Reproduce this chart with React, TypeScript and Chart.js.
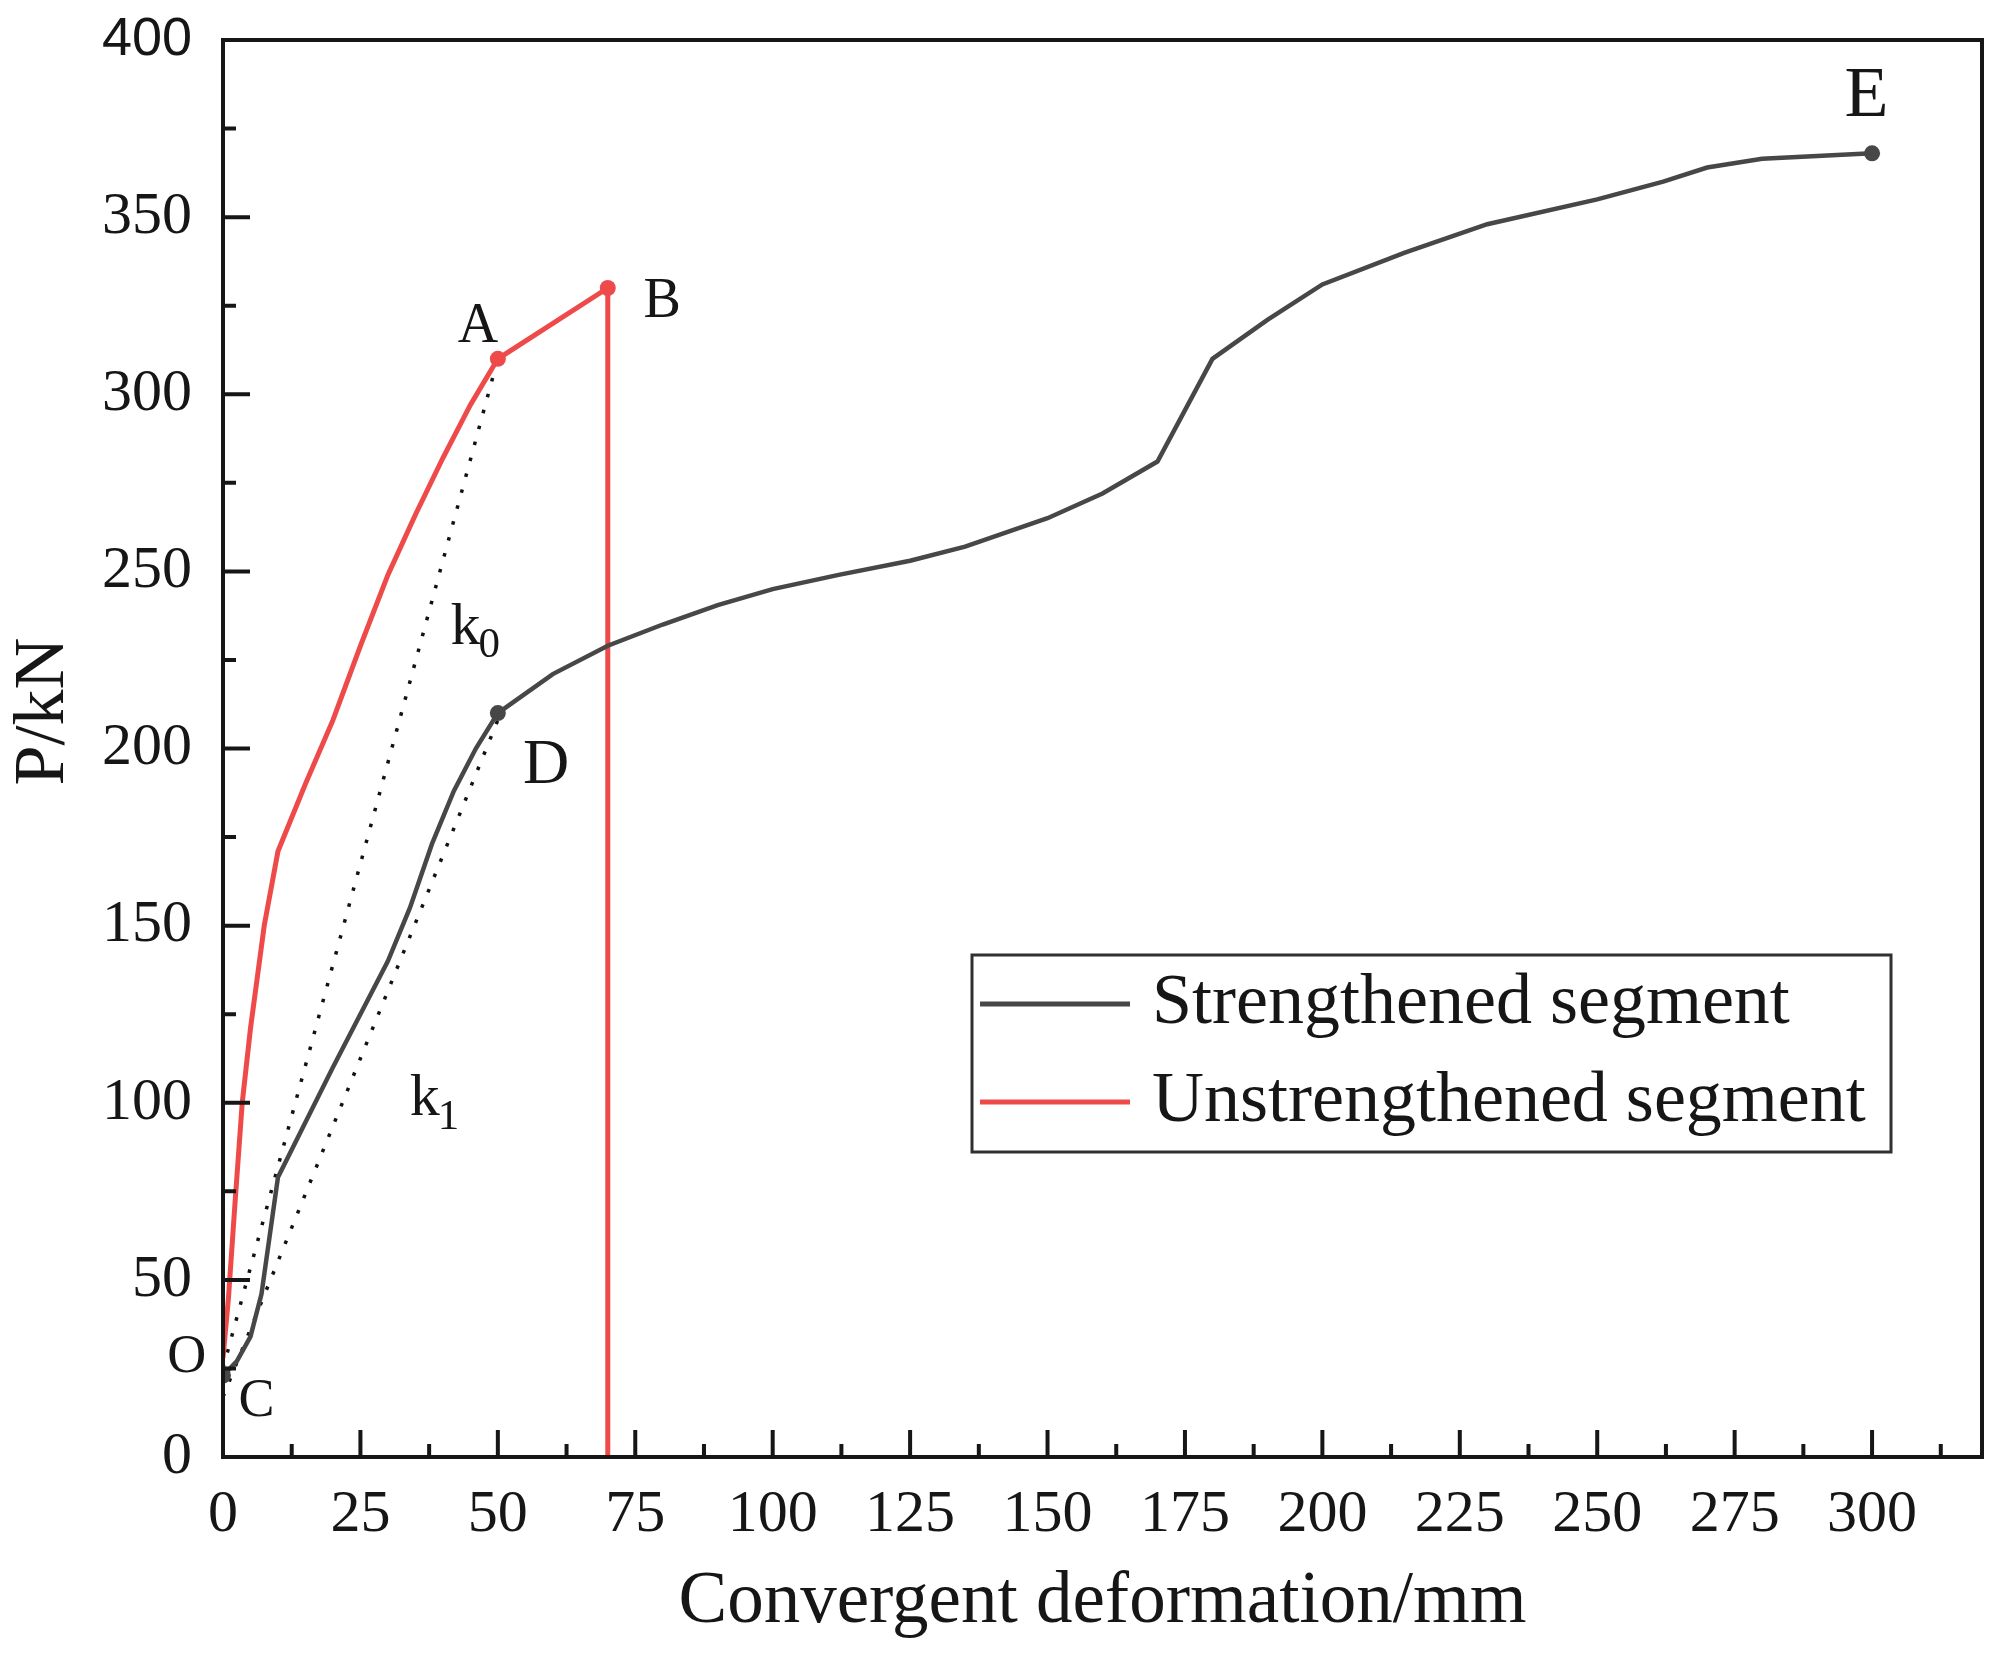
import { useEffect, useRef } from 'react';
import { Chart, registerables } from 'chart.js';

Chart.register(...registerables);

// ---------- data ----------
const strengthenedX = [0, 2.5, 5, 7, 10, 20, 30, 34, 38, 42, 46, 50, 60, 70, 80, 90, 100, 112, 125, 135, 150, 160, 170, 180, 190, 200, 215, 230, 250, 262, 270, 280, 300];
const strengthenedY = [23, 27, 34, 46, 79, 110, 140, 155, 173, 188, 200, 210, 221, 229, 235, 240.5, 245, 249, 253, 257, 265, 272, 281, 310, 321, 331, 340, 348, 355, 360, 364, 366.5, 368];
const strengthenedMarks = [0, 50, 300]; // C, D, E

const unstrengthenedX = [0, 1, 2.2, 3.5, 5, 7.5, 10, 15, 20, 25, 30, 35, 40, 45, 50, 70, 70];
const unstrengthenedY = [28, 45, 72, 100, 121, 150, 171, 190, 208, 229, 249, 266, 282, 297, 310, 330, 0];
const unstrengthenedMarks = [50, 70]; // A, B (upper point only)

const k0X = [0, 50];
const k0Y = [25, 310];
const k1X = [0, 50];
const k1Y = [17, 208];

const xTickValues = [0, 25, 50, 75, 100, 125, 150, 175, 200, 225, 250, 275, 300];
const yTickValues = [0, 50, 100, 150, 200, 250, 300, 350, 400];

const seriesLabels = ['Strengthened segment', 'Unstrengthened segment'];
const xTitle = 'Convergent deformation/mm';
const yTitle = 'P/kN';

// point labels: text, subscript, x, y (data units), font size
const pointLabels: { t: string; sub?: string; x: number; y: number; s: number }[] = [
  { t: 'A', x: 46.4, y: 319, s: 56 },
  { t: 'B', x: 79.9, y: 326, s: 56 },
  { t: 'D', x: 58.8, y: 195, s: 64 },
  { t: 'E', x: 299, y: 384, s: 72 },
  { t: 'O', x: -6.6, y: 28, s: 54 },
  { t: 'C', x: 6.1, y: 15.7, s: 54 },
  { t: 'k', sub: '0', x: 44.1, y: 234, s: 60 },
  { t: 'k', sub: '1', x: 36.7, y: 101, s: 60 },
];

const SERIF = '"Liberation Serif", "Times New Roman", serif';
const SANS = '"Liberation Sans", Arial, sans-serif';
const RED = '#ee4a4a';
const DARK = '#474747';
const INK = '#161616';

const toPts = (xs: number[], ys: number[]) => xs.map((x, i) => ({ x, y: ys[i] }));

const overlayPlugin = {
  id: 'overlay',
  afterDatasetsDraw(chart: any) {
    const { ctx, chartArea: ca, scales } = chart;
    const xs = scales.x;
    const ys = scales.y;
    ctx.save();
    // frame
    ctx.strokeStyle = INK;
    ctx.lineWidth = 4;
    ctx.lineCap = 'square';
    ctx.strokeRect(ca.left, ca.top, ca.right - ca.left, ca.bottom - ca.top);
    // inward ticks
    ctx.lineCap = 'butt';
    ctx.lineWidth = 4;
    ctx.beginPath();
    const xStep = xTickValues[1] - xTickValues[0];
    xTickValues.forEach((v) => {
      const px = xs.getPixelForValue(v);
      ctx.moveTo(px, ca.bottom);
      ctx.lineTo(px, ca.bottom - 27);
      const mv = v + xStep / 2;
      if (mv < xs.max) {
        const mp = xs.getPixelForValue(mv);
        ctx.moveTo(mp, ca.bottom);
        ctx.lineTo(mp, ca.bottom - 13);
      }
    });
    const yStep = yTickValues[1] - yTickValues[0];
    yTickValues.forEach((v) => {
      const py = ys.getPixelForValue(v);
      ctx.moveTo(ca.left, py);
      ctx.lineTo(ca.left + 27, py);
      const mv = v + yStep / 2;
      if (mv < ys.max) {
        const mp = ys.getPixelForValue(mv);
        ctx.moveTo(ca.left, mp);
        ctx.lineTo(ca.left + 13, mp);
      }
    });
    ctx.stroke();

    // point labels
    ctx.fillStyle = INK;
    ctx.textBaseline = 'middle';
    pointLabels.forEach((l) => {
      const px = xs.getPixelForValue(l.x);
      const py = ys.getPixelForValue(l.y);
      ctx.font = `${l.s}px ${SERIF}`;
      ctx.textAlign = 'center';
      ctx.fillText(l.t, px, py);
      if (l.sub) {
        const w = ctx.measureText(l.t).width;
        ctx.font = `${Math.round(l.s * 0.72)}px ${SERIF}`;
        ctx.textAlign = 'left';
        ctx.fillText(l.sub, px + w / 2 - 2, py + l.s * 0.3);
      }
    });

    // y-axis title
    ctx.save();
    ctx.translate(44, (ca.top + ca.bottom) / 2 - 37);
    ctx.rotate(-Math.PI / 2);
    ctx.font = `72px ${SERIF}`;
    ctx.textAlign = 'center';
    ctx.textBaseline = 'middle';
    ctx.fillText(yTitle, 0, 0);
    ctx.restore();

    // legend
    const bx = ca.left + 749;
    const by = ca.top + 915;
    const bw = 919;
    const bh = 197;
    ctx.fillStyle = '#ffffff';
    ctx.fillRect(bx, by, bw, bh);
    ctx.strokeStyle = '#303030';
    ctx.lineWidth = 3;
    ctx.strokeRect(bx, by, bw, bh);
    const ds = chart.data.datasets;
    [0, 1].forEach((i) => {
      const cy = by + 49 + i * 98;
      ctx.strokeStyle = ds[i].borderColor;
      ctx.lineWidth = 5;
      ctx.beginPath();
      ctx.moveTo(bx + 8, cy);
      ctx.lineTo(bx + 158, cy);
      ctx.stroke();
      ctx.fillStyle = INK;
      ctx.font = `72px ${SERIF}`;
      ctx.textAlign = 'left';
      ctx.textBaseline = 'middle';
      ctx.fillText(ds[i].label, bx + 180, cy);
    });
    ctx.restore();
  },
};

export default function App() {
  const canvasRef = useRef<HTMLCanvasElement | null>(null);

  useEffect(() => {
    const canvas = canvasRef.current;
    if (!canvas) return;
    const chart = new Chart(canvas, {
      type: 'line',
      data: {
        datasets: [
          {
            label: seriesLabels[0],
            data: toPts(strengthenedX, strengthenedY),
            borderColor: DARK,
            backgroundColor: DARK,
            borderWidth: 4.5,
            tension: 0,
            pointRadius: (c: any) => (c.raw && strengthenedMarks.includes(c.raw.x) ? 8 : 0),
            pointBackgroundColor: DARK,
            pointBorderWidth: 0,
          },
          {
            label: seriesLabels[1],
            data: toPts(unstrengthenedX, unstrengthenedY),
            borderColor: RED,
            backgroundColor: RED,
            borderWidth: 5,
            tension: 0,
            pointRadius: (c: any) =>
              c.raw && unstrengthenedMarks.includes(c.raw.x) && c.raw.y > 0 ? 8 : 0,
            pointBackgroundColor: RED,
            pointBorderWidth: 0,
          },
          {
            label: 'k0',
            data: toPts(k0X, k0Y),
            borderColor: '#111111',
            borderWidth: 3.5,
            borderDash: [3.5, 13],
            pointRadius: 0,
            tension: 0,
          },
          {
            label: 'k1',
            data: toPts(k1X, k1Y),
            borderColor: '#111111',
            borderWidth: 3.5,
            borderDash: [3.5, 13],
            pointRadius: 0,
            tension: 0,
          },
        ],
      },
      options: {
        responsive: false,
        animation: false,
        devicePixelRatio: 1,
        layout: { padding: { top: 40, right: 21, left: 0, bottom: 0 } },
        plugins: {
          legend: { display: false },
          tooltip: { enabled: false },
        },
        scales: {
          x: {
            type: 'linear',
            min: 0,
            max: 320,
            grid: { display: false, drawTicks: false },
            border: { display: false },
            afterBuildTicks: (s: any) => {
              s.ticks = xTickValues.map((v) => ({ value: v }));
            },
            afterFit: (s: any) => {
              s.height = 196;
              s.paddingLeft = 0;
              s.paddingRight = 0;
            },
            ticks: {
              autoSkip: false,
              maxRotation: 0,
              padding: 22,
              color: INK,
              font: { family: SERIF, size: 60 },
            },
            title: {
              display: true,
              text: xTitle,
              color: INK,
              font: { family: SERIF, size: 73 },
              padding: { top: 0, bottom: 6 },
            },
          },
          y: {
            type: 'linear',
            min: 0,
            max: 400,
            grid: { display: false, drawTicks: false },
            border: { display: false },
            afterBuildTicks: (s: any) => {
              s.ticks = yTickValues.map((v) => ({ value: v }));
            },
            afterFit: (s: any) => {
              s.width = 223;
              s.paddingTop = 0;
              s.paddingBottom = 0;
            },
            ticks: {
              autoSkip: false,
              padding: 31,
              color: INK,
              font: (c: any) =>
                c.tick && c.tick.value === 400
                  ? { family: SANS, size: 54 }
                  : { family: SERIF, size: 60 },
            },
          },
        },
      },
      plugins: [overlayPlugin],
    } as any);
    return () => chart.destroy();
  }, []);

  return (
    <div style={{ position: 'absolute', left: 0, top: 0, width: 2003, height: 1653, background: '#ffffff' }}>
      <canvas ref={canvasRef} width={2003} height={1653} style={{ display: 'block' }} />
    </div>
  );
}
